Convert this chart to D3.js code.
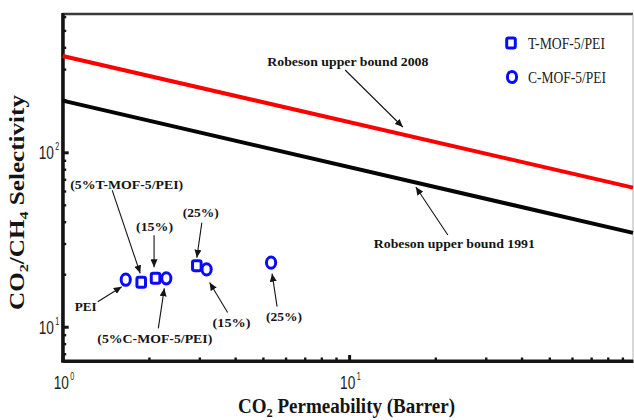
<!DOCTYPE html>
<html>
<head>
<meta charset="utf-8">
<script src="https://cdn.jsdelivr.net/npm/d3@7"></script>
<style>
  html, body { margin: 0; padding: 0; background: #fff; }
  svg { display: block; }
</style>
</head>
<body>
<svg id="chart" width="634" height="420"></svg>
<script>
// CO2/CH4 separation performance of T-MOF-5/PEI and C-MOF-5/PEI membranes
const loadings = ["5%", "15%", "25%"];
const tmofPerm = [1.88, 2.11, 2.94];
const tmofSel = [17.97, 18.95, 22.4];
const cmofPerm = [2.30, 3.18, 5.34];
const cmofSel = [18.95, 21.3, 23.3];
const peiPerm = [1.66];
const peiSel = [18.6];

// Robeson upper bounds (end points across the plotted permeability range)
const bound1991Perm = [1, 98];
const bound1991Sel = [198, 34.5];
const bound2008Perm = [1, 98];
const bound2008Sel = [357, 62.7];

const xDomain = [1, 98];
const yDomain = [6.36, 621];
const xMajor = [1, 10];
const yMajor = [10, 100];
const xTickExp = ["0", "1"];
const yTickExp = ["1", "2"];

const svg = d3.select("#chart");
const m = { left: 62.7, right: 633, top: 14, bottom: 361 };

const x = d3.scaleLog().domain(xDomain).range([m.left, m.right]);
const y = d3.scaleLog().domain(yDomain).range([m.bottom, m.top]);

const blue = "#0a0aff";
const ink = "#141414";
const serif = "'Liberation Serif', 'Times New Roman', serif";
const sans = "'Liberation Sans', Arial, sans-serif";

// arrowhead
svg.append("defs").append("marker")
  .attr("id", "arrow")
  .attr("markerUnits", "userSpaceOnUse")
  .attr("markerWidth", 9).attr("markerHeight", 7)
  .attr("refX", 8).attr("refY", 3.5)
  .attr("orient", "auto")
  .append("path").attr("d", "M0,0 L8,3.5 L0,7 Z").attr("fill", ink);

// frame: top and right border
svg.append("line").attr("x1", m.left).attr("x2", m.right)
  .attr("y1", m.top).attr("y2", m.top)
  .attr("stroke", "#3a3a3a").attr("stroke-width", 2.6);
svg.append("line").attr("x1", m.right).attr("x2", m.right)
  .attr("y1", m.top).attr("y2", m.bottom)
  .attr("stroke", "#b0b0b0").attr("stroke-width", 1);

// minor tick values for log axes
function minorTicks(domain) {
  const out = [];
  const lo = Math.floor(Math.log10(domain[0])), hi = Math.ceil(Math.log10(domain[1]));
  for (let e = lo; e <= hi; e++) {
    for (let k = 2; k <= 9; k++) {
      const v = k * Math.pow(10, e);
      if (v > domain[0] && v < domain[1]) out.push(v);
    }
  }
  return out;
}

function styleAxis(g, w) {
  g.selectAll(".domain").attr("stroke", ink).attr("stroke-width", 3);
  g.selectAll(".tick line").attr("stroke", ink).attr("stroke-width", w);
  g.selectAll(".tick text").remove();
}

// x axis
const gxMinor = svg.append("g").attr("transform", `translate(0,${m.bottom})`)
  .call(d3.axisBottom(x).tickValues(minorTicks(xDomain)).tickSize(-3.5).tickSizeOuter(0).tickFormat(""));
styleAxis(gxMinor, 2.4);
const gxMajor = svg.append("g").attr("transform", `translate(0,${m.bottom})`)
  .call(d3.axisBottom(x).tickValues(xMajor).tickSize(-6).tickSizeOuter(0).tickFormat(""));
styleAxis(gxMajor, 3);
gxMajor.select(".domain").attr("d", `M${m.left - 1.5},0H${m.right}`);

// y axis
const gyMinor = svg.append("g").attr("transform", `translate(${m.left},0)`)
  .call(d3.axisLeft(y).tickValues(minorTicks(yDomain)).tickSize(-3.5).tickSizeOuter(0).tickFormat(""));
styleAxis(gyMinor, 2.4);
const gyMajor = svg.append("g").attr("transform", `translate(${m.left},0)`)
  .call(d3.axisLeft(y).tickValues(yMajor).tickSize(-6).tickSizeOuter(0).tickFormat(""));
styleAxis(gyMajor, 3);
gyMajor.select(".domain").attr("d", `M0,${m.top - 1}V${m.bottom + 1.5}`);

// tick labels 10^n, narrow sans with a raised exponent
function powerLabel(cx, baseY, exp, anchorRight) {
  const left = anchorRight ? cx - 21 : cx - 9;
  const t = svg.append("text")
    .attr("transform", `translate(${left},${baseY}) scale(0.72,1)`)
    .attr("font-family", sans).attr("font-size", 19).attr("fill", "#222");
  t.append("tspan").text("10");
  t.append("tspan").attr("dx", 2).attr("dy", -9).attr("font-size", 10).text(exp);
}
xMajor.forEach((v, i) => powerLabel(x(v), 389, xTickExp[i], false));
yMajor.forEach((v, i) => powerLabel(m.left - 3, y(v) + 7, yTickExp[i], true));

// axis titles
const xt = svg.append("text")
  .attr("x", 238).attr("y", 413)
  .attr("font-family", serif).attr("font-weight", "bold").attr("font-size", 20).attr("fill", ink)
  .attr("textLength", 217).attr("lengthAdjust", "spacingAndGlyphs");
xt.append("tspan").text("CO");
xt.append("tspan").attr("font-size", 13).attr("dy", 4).text("2");
xt.append("tspan").attr("dy", -4).text(" Permeability (Barrer)");

const yt = svg.append("text")
  .attr("transform", `translate(24,310) rotate(-90)`)
  .attr("font-family", serif).attr("font-weight", "bold").attr("font-size", 20).attr("fill", ink)
  .attr("textLength", 215).attr("lengthAdjust", "spacingAndGlyphs");
yt.append("tspan").text("CO");
yt.append("tspan").attr("font-size", 13).attr("dy", 4).text("2");
yt.append("tspan").attr("dy", -4).text("/CH");
yt.append("tspan").attr("font-size", 13).attr("dy", 4).text("4");
yt.append("tspan").attr("dy", -4).text(" Selectivity");

// upper bound lines
const line = d3.line().x(d => x(d[0])).y(d => y(d[1]));
svg.append("path")
  .datum(bound2008Perm.map((p, i) => [p, bound2008Sel[i]]))
  .attr("d", line).attr("fill", "none").attr("stroke", "#ff0000").attr("stroke-width", 4);
svg.append("path")
  .datum(bound1991Perm.map((p, i) => [p, bound1991Sel[i]]))
  .attr("d", line).attr("fill", "none").attr("stroke", "#050505").attr("stroke-width", 4);

// markers
function square(g, cx, cy) {
  g.append("rect").attr("x", cx - 4.3).attr("y", cy - 5).attr("width", 8.6).attr("height", 10)
    .attr("rx", 1.8).attr("fill", "none").attr("stroke", blue).attr("stroke-width", 3);
}
function ring(g, cx, cy) {
  g.append("ellipse").attr("cx", cx).attr("cy", cy).attr("rx", 4.6).attr("ry", 5.6)
    .attr("fill", "none").attr("stroke", blue).attr("stroke-width", 3);
}
const pts = svg.append("g");
tmofPerm.forEach((p, i) => square(pts, x(p), y(tmofSel[i])));
cmofPerm.forEach((p, i) => ring(pts, x(p), y(cmofSel[i])));
peiPerm.forEach((p, i) => ring(pts, x(p), y(peiSel[i])));

// legend
square(svg, 511, 43);
ring(svg, 512, 77);
svg.append("text").attr("x", 528).attr("y", 49)
  .attr("font-family", serif).attr("font-size", 17).attr("fill", "#222")
  .attr("textLength", 77).attr("lengthAdjust", "spacingAndGlyphs").text("T-MOF-5/PEI");
svg.append("text").attr("x", 528).attr("y", 83)
  .attr("font-family", serif).attr("font-size", 17).attr("fill", "#222")
  .attr("textLength", 78).attr("lengthAdjust", "spacingAndGlyphs").text("C-MOF-5/PEI");

// point annotations: label centre, arrow start and arrow tip as offsets from the point
const pointNotes = [
  { text: "(5%T-MOF-5/PEI)", px: tmofPerm[0], py: tmofSel[0], len: 113, lab: [-14.5, -98], from: [-29, -92], to: [-1, -9] },
  { text: "(15%)", px: tmofPerm[1], py: tmofSel[1], len: 37, lab: [-1, -52], from: [-1.5, -43], to: [-1.5, -11] },
  { text: "(25%)", px: tmofPerm[2], py: tmofSel[2], len: 36, lab: [4, -53], from: [5, -43], to: [0, -8] },
  { text: "PEI", px: peiPerm[0], py: peiSel[0], len: 22, lab: [-40, 27], from: [-28, 22], to: [-4, 7] },
  { text: "(5%C-MOF-5/PEI)", px: cmofPerm[0], py: cmofSel[0], len: 115, lab: [-11.5, 60], from: [-8, 50], to: [-2, 10] },
  { text: "(15%)", px: cmofPerm[1], py: cmofSel[1], len: 38, lab: [25, 53], from: [21, 43], to: [3, 13] },
  { text: "(25%)", px: cmofPerm[2], py: cmofSel[2], len: 36, lab: [13, 54], from: [6, 44], to: [1, 11] }
];

function note(cx, cy, text, len) {
  svg.append("text").attr("x", cx).attr("y", cy + 4.5)
    .attr("text-anchor", "middle")
    .attr("font-family", serif).attr("font-weight", "bold").attr("font-size", 13.5).attr("fill", ink)
    .attr("textLength", len).attr("lengthAdjust", "spacingAndGlyphs").text(text);
}
function arrow(x1, y1, x2, y2) {
  svg.append("line").attr("x1", x1).attr("y1", y1).attr("x2", x2).attr("y2", y2)
    .attr("stroke", ink).attr("stroke-width", 1.1).attr("marker-end", "url(#arrow)");
}

pointNotes.forEach(n => {
  const cx = x(n.px), cy = y(n.py);
  note(cx + n.lab[0], cy + n.lab[1], n.text, n.len);
  arrow(cx + n.from[0], cy + n.from[1], cx + n.to[0], cy + n.to[1]);
});

// upper bound annotations, arrows pointing at the lines
const boundNotes = [
  { text: "Robeson upper bound 2008", atPerm: 15.4, perms: bound2008Perm, sels: bound2008Sel, lab: [-55, -73.5], from: [-57.7, -64.5], to: [0, -7.5] },
  { text: "Robeson upper bound 1991", atPerm: 17.1, perms: bound1991Perm, sels: bound1991Sel, lab: [38.5, 60.5], from: [32, 52.5], to: [0, 4.5] }
];
boundNotes.forEach(n => {
  const lineY = d3.scaleLog().domain(n.perms).range(n.sels.map(Math.log));
  const cx = x(n.atPerm), cy = y(Math.exp(lineY(n.atPerm)));
  note(cx + n.lab[0], cy + n.lab[1], n.text, 161);
  arrow(cx + n.from[0], cy + n.from[1], cx + n.to[0], cy + n.to[1]);
});
</script>
</body>
</html>
